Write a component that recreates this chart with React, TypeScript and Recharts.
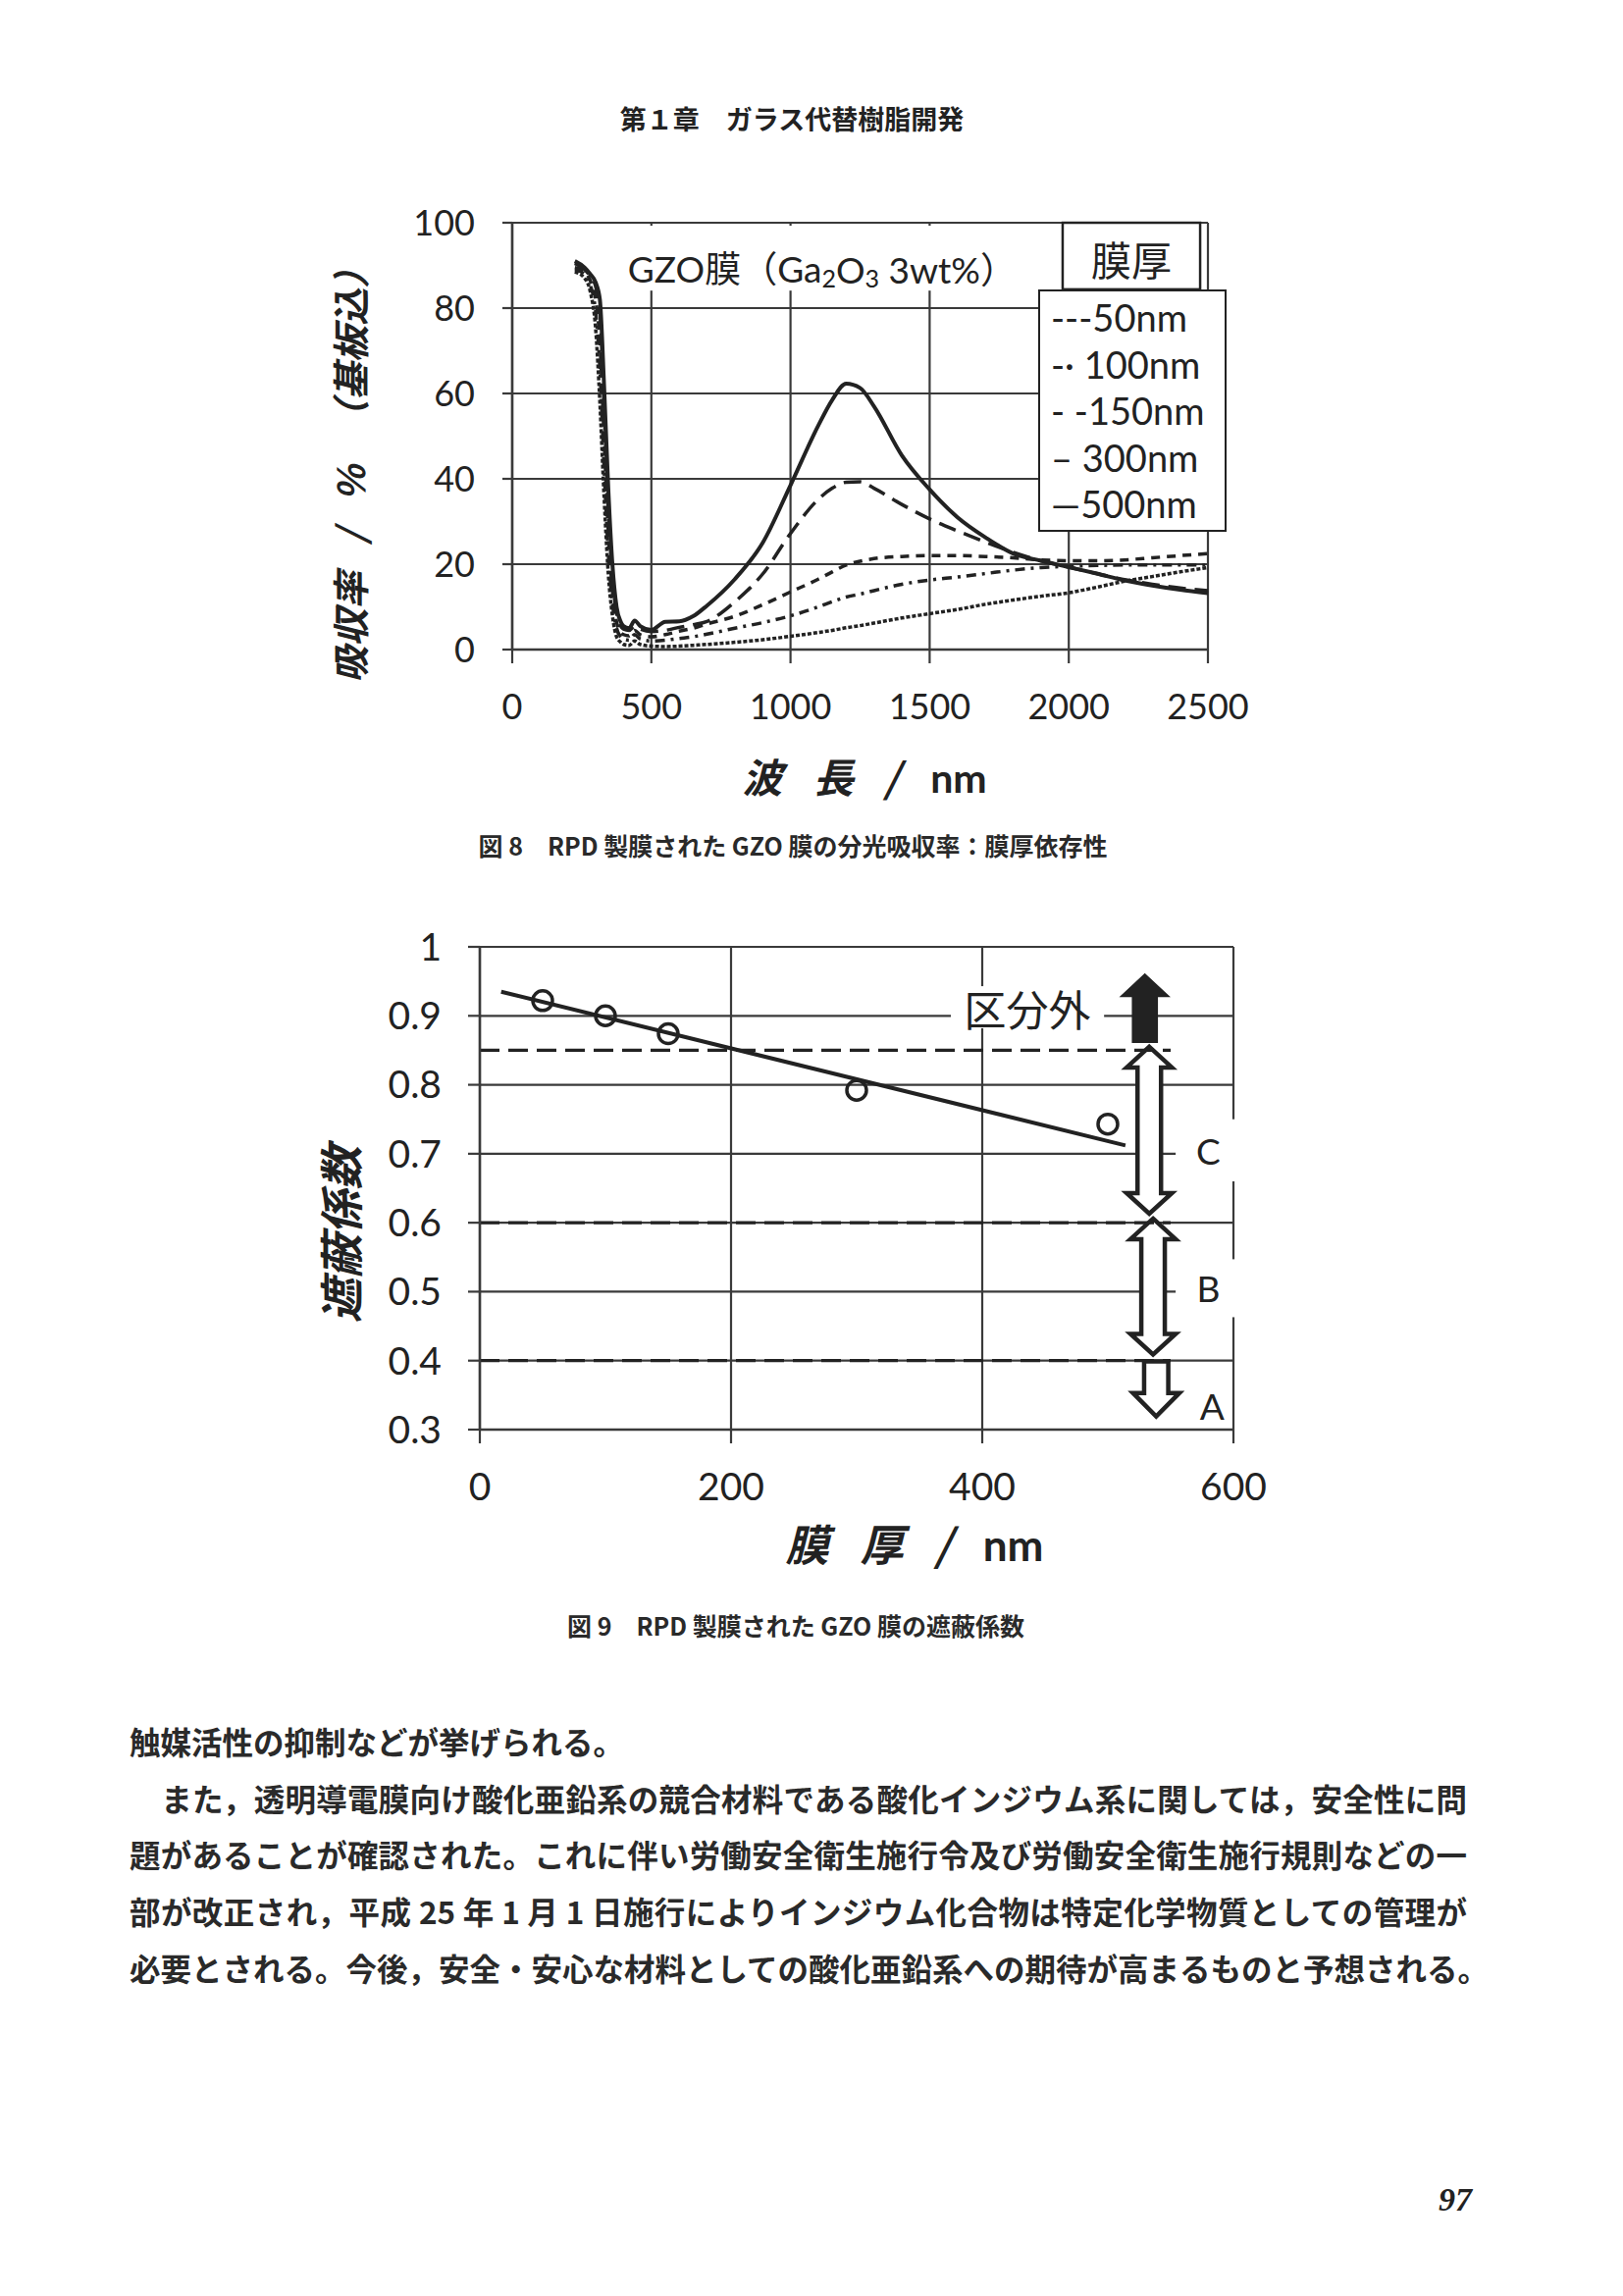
import React from 'react'
import {
  LineChart,
  Line,
  XAxis,
  YAxis,
  CartesianGrid,
  Legend,
  ReferenceArea,
  ReferenceLine,
  ComposedChart,
  Scatter,
} from 'recharts'

const INK = '#222'
const GRID = '#3a3a3a'
const NUM_FONT = 'Lato, "Noto Sans", sans-serif'
const JP_FONT = '"Noto Sans CJK JP", "Noto Sans", sans-serif'

// 図8 分光吸収率（膜厚依存性）
const WL = [225, 260, 280, 300, 315, 330, 345, 360, 375, 390, 400, 420, 440, 460, 500, 550, 600, 650, 700, 800, 900, 1000, 1100, 1150, 1200, 1250, 1300, 1400, 1500, 1600, 1700, 1800, 1900, 2000, 2100, 2200, 2300, 2400, 2500]
const ABS_50 = [88.5, 87, 84, 75, 58, 36, 18, 8, 3, 1.7, 1.2, 1, 2, 1.2, 0.8, 0.7, 0.8, 1, 1.2, 1.7, 2.3, 3.1, 4, 4.5, 5.1, 5.6, 6.2, 7.4, 8.4, 9.4, 10.6, 11.6, 12.5, 13.3, 14.6, 16, 17.1, 18.2, 19.2]
const ABS_100 = [89, 88, 85.5, 79, 66, 43, 23, 11, 5, 3, 2.5, 2.2, 3.5, 2.5, 2, 2.2, 2.6, 3, 3.6, 5, 6.3, 7.9, 10, 11.2, 12.3, 13, 13.8, 15.3, 16.3, 17, 17.8, 18.6, 19.2, 19.5, 19.7, 19.8, 19.8, 19.8, 19.8]
const ABS_150 = [89.5, 88.5, 86.5, 82, 72, 50, 28, 14, 6.5, 4, 3.5, 3.2, 4.5, 3.5, 3, 3.5, 4.3, 5, 6, 7.8, 10.5, 13.5, 16.5, 18.2, 19.8, 20.7, 21.3, 21.8, 22, 22, 21.8, 21.5, 21, 20.8, 20.8, 21, 21.5, 22, 22.5]
const ABS_300 = [90.5, 89, 87.5, 85, 79, 57, 33, 17, 8.5, 5.5, 4.8, 4.5, 5.5, 4.8, 4.2, 4.5, 5.2, 5.8, 6.6, 11.2, 17.7, 27.2, 35.2, 37.8, 39.2, 39.3, 37.8, 34, 30.6, 27.8, 25.2, 22.8, 20.8, 19.3, 17.8, 16.4, 15.3, 14.4, 13.8]
const ABS_500 = [91, 89.5, 88, 86, 82, 62, 38, 20, 10, 6.5, 5.5, 5, 6.8, 5.5, 4.6, 6.5, 6.6, 7.8, 10.3, 16.5, 25, 38.5, 52.5, 58.5, 62.3, 61.3, 57, 45.5, 37.5, 31, 26.3, 22.5, 20.8, 19.3, 17.8, 16.2, 15, 14, 13.2]
const LEGEND_8 = ['---50nm', '-· 100nm', '- -150nm', '– 300nm', '—500nm']
const X8_TICKS = [0, 500, 1000, 1500, 2000, 2500]
const Y8_TICKS = [0, 20, 40, 60, 80, 100]

const ROWS_8 = WL.map((wl, i) => ({
  wl,
  a50: ABS_50[i],
  a100: ABS_100[i],
  a150: ABS_150[i],
  a300: ABS_300[i],
  a500: ABS_500[i],
}))

// 図9 遮蔽係数
const THICKNESS = [50, 100, 150, 300, 500]
const SHIELD = [0.922, 0.9, 0.874, 0.792, 0.743]
const FIT_X = [17, 514]
const FIT_Y = [0.935, 0.712]
const CLASS_LEVELS = [0.85, 0.6, 0.4]
const CLASS_END = 550
const X9_TICKS = [0, 200, 400, 600]
const Y9_TICKS = [0.3, 0.4, 0.5, 0.6, 0.7, 0.8, 0.9, 1]

const POINTS_9 = THICKNESS.map((x, i) => ({ x, y: SHIELD[i] }))
const FIT_9 = FIT_X.map((x, i) => ({ x, y: FIT_Y[i] }))

const BODY = [
  '触媒活性の抑制などが挙げられる。',
  'また，透明導電膜向け酸化亜鉛系の競合材料である酸化インジウム系に関しては，安全性に問',
  '題があることが確認された。これに伴い労働安全衛生施行令及び労働安全衛生施行規則などの一',
  '部が改正され，平成 25 年 1 月 1 日施行によりインジウム化合物は特定化学物質としての管理が',
  '必要とされる。今後，安全・安心な材料としての酸化亜鉛系への期待が高まるものと予想される。',
]

const tick8 = { fill: INK, fontSize: 36, fontFamily: NUM_FONT }
const tick9 = { fill: INK, fontSize: 39, fontFamily: NUM_FONT }

function center(cx: number, cy: number, extra: React.CSSProperties = {}): React.CSSProperties {
  return {
    position: 'absolute',
    left: cx,
    top: cy,
    transform: 'translate(-50%, -50%)',
    whiteSpace: 'nowrap',
    color: INK,
    ...extra,
  }
}

function TitleBox8(p: any) {
  return (
    <g>
      <rect x={p.x} y={p.y} width={p.width} height={p.height} fill="#fff" />
      <text
        x={p.x + p.width / 2}
        y={p.y + p.height * 0.66}
        textAnchor="middle"
        dominantBaseline="central"
        fontSize={37}
        fontFamily={`Lato, ${JP_FONT}`}
        fill={INK}
      >
        GZO膜（Ga
        <tspan fontSize={25} dy={9}>2</tspan>
        <tspan dy={-9}>O</tspan>
        <tspan fontSize={25} dy={9}>3</tspan>
        <tspan dy={-9}> 3wt%）</tspan>
      </text>
    </g>
  )
}

function UnitBox8(p: any) {
  return (
    <g>
      <rect x={p.x} y={p.y} width={p.width} height={p.height} fill="#fff" stroke={INK} strokeWidth={2.5} />
      <text
        x={p.x + p.width / 2}
        y={p.y + p.height / 2 + 2}
        textAnchor="middle"
        dominantBaseline="central"
        fontSize={41}
        fontFamily={JP_FONT}
        fill={INK}
      >
        膜厚
      </text>
    </g>
  )
}

function Legend8(props: any) {
  const items = [...(props.payload ?? [])].sort(
    (a: any, b: any) => LEGEND_8.indexOf(a.value) - LEGEND_8.indexOf(b.value),
  )
  return (
    <div
      style={{
        width: 192,
        height: 247,
        boxSizing: 'border-box',
        border: `2.5px solid ${INK}`,
        background: '#fff',
        padding: '3px 0 0 11px',
        fontFamily: NUM_FONT,
        fontSize: 38,
        lineHeight: '47.5px',
        color: INK,
        whiteSpace: 'nowrap',
      }}
    >
      {items.map((it: any) => (
        <div key={it.value}>{it.value}</div>
      ))}
    </div>
  )
}

function labelShape(text: string, size: number, family: string, weight: number, bg: boolean) {
  return (p: any) => (
    <g>
      {bg && <rect x={p.x} y={p.y} width={p.width} height={p.height} fill="#fff" />}
      <text
        x={p.x + p.width / 2}
        y={p.y + p.height / 2}
        textAnchor="middle"
        dominantBaseline="central"
        fontSize={size}
        fontFamily={family}
        fontWeight={weight}
        fill={INK}
      >
        {text}
      </text>
    </g>
  )
}

function FilledUpArrow(p: any) {
  const { x, y, width: w, height: h } = p
  const cx = x + w / 2
  const hh = h * 0.32
  const sw = w * 0.26
  const pts = [
    [cx, y], [x + w, y + hh], [cx + sw, y + hh], [cx + sw, y + h],
    [cx - sw, y + h], [cx - sw, y + hh], [x, y + hh],
  ]
  return <polygon points={pts.map(q => q.join(',')).join(' ')} fill={INK} stroke={INK} strokeWidth={2} />
}

function DoubleArrow(p: any) {
  const { x, y, width: w, height: h } = p
  const cx = x + w / 2
  const hh = 21
  const sw = w * 0.26
  const pts = [
    [cx, y], [x + w, y + hh], [cx + sw, y + hh], [cx + sw, y + h - hh], [x + w, y + h - hh],
    [cx, y + h], [x, y + h - hh], [cx - sw, y + h - hh], [cx - sw, y + hh], [x, y + hh],
  ]
  return <polygon points={pts.map(q => q.join(',')).join(' ')} fill="#fff" stroke={INK} strokeWidth={4.5} />
}

function DownArrow(p: any) {
  const { x, y, width: w, height: h } = p
  const cx = x + w / 2
  const hh = 24
  const sw = w * 0.26
  const pts = [
    [cx - sw, y], [cx + sw, y], [cx + sw, y + h - hh], [x + w, y + h - hh],
    [cx, y + h], [x, y + h - hh], [cx - sw, y + h - hh],
  ]
  return <polygon points={pts.map(q => q.join(',')).join(' ')} fill="#fff" stroke={INK} strokeWidth={4.5} />
}

function Circle9(p: any) {
  return <circle cx={p.cx} cy={p.cy} r={10} fill="none" stroke={INK} strokeWidth={3.5} />
}

export default function App() {
  const bodyLine = (i: number): React.CSSProperties => ({
    position: 'absolute',
    left: 132,
    top: 1774 + i * 57.7 - 20,
    width: 1363,
    height: 40,
    lineHeight: '40px',
    fontSize: 31.5,
    fontFamily: JP_FONT,
    fontWeight: 700,
    color: '#2a2a2a',
    whiteSpace: 'nowrap',
    textAlign: i === 0 ? 'left' : 'justify',
    textAlignLast: i === 0 ? 'left' : 'justify',
  })

  return (
    <div style={{ position: 'absolute', left: 0, top: 0, width: 1654, height: 2340, background: '#fff', overflow: 'hidden' }}>
      <div style={center(807, 120, { fontFamily: JP_FONT, fontSize: 27, fontWeight: 700 })}>第１章　ガラス代替樹脂開発</div>

      {/* 図8 */}
      <div style={{ position: 'absolute', left: 300, top: 180 }}>
        <LineChart width={1000} height={620} data={ROWS_8} margin={{ top: 47, right: 69, bottom: 58, left: 122 }}>
          <CartesianGrid stroke={GRID} strokeWidth={2.2} />
          <XAxis
            dataKey="wl"
            type="number"
            domain={[0, 2500]}
            ticks={X8_TICKS}
            interval={0}
            height={80}
            tick={tick8}
            tickSize={14}
            tickMargin={31}
            axisLine={{ stroke: GRID, strokeWidth: 2.5 }}
            tickLine={{ stroke: GRID, strokeWidth: 2.2 }}
          />
          <YAxis
            type="number"
            domain={[0, 100]}
            ticks={Y8_TICKS}
            interval={0}
            width={100}
            tick={tick8}
            tickSize={10}
            tickMargin={28}
            axisLine={{ stroke: GRID, strokeWidth: 2.5 }}
            tickLine={{ stroke: GRID, strokeWidth: 2.2 }}
          />
          <ReferenceArea x1={416} x2={1812} y1={84.1} y2={99.3} ifOverflow="visible" shape={TitleBox8} />
          <ReferenceArea x1={1978} x2={2472} y1={84.4} y2={100} ifOverflow="visible" shape={UnitBox8} />
          <Line dataKey="a50" name={LEGEND_8[0]} type="monotone" stroke={INK} strokeWidth={3.5} strokeDasharray="4 2" dot={false} isAnimationActive={false} />
          <Line dataKey="a100" name={LEGEND_8[1]} type="monotone" stroke={INK} strokeWidth={3.5} strokeDasharray="10 6 3 6" dot={false} isAnimationActive={false} />
          <Line dataKey="a150" name={LEGEND_8[2]} type="monotone" stroke={INK} strokeWidth={3.5} strokeDasharray="9 7" dot={false} isAnimationActive={false} />
          <Line dataKey="a300" name={LEGEND_8[3]} type="monotone" stroke={INK} strokeWidth={3.5} strokeDasharray="18 9" dot={false} isAnimationActive={false} />
          <Line dataKey="a500" name={LEGEND_8[4]} type="monotone" stroke={INK} strokeWidth={4} dot={false} isAnimationActive={false} />
          <Legend
            layout="vertical"
            align="center"
            verticalAlign="middle"
            wrapperStyle={{ left: 758, top: 115, width: 192, height: 247 }}
            content={Legend8}
          />
        </LineChart>
      </div>
      <div style={center(355, 476, { transform: 'translate(-50%, -50%) rotate(-90deg)', fontFamily: JP_FONT, fontSize: 38, fontWeight: 700, fontStyle: 'italic', wordSpacing: 20 })}>
        吸収率 / % （基板込）
      </div>
      <div style={center(881, 790, { fontFamily: JP_FONT, fontSize: 41, fontWeight: 700, fontStyle: 'italic', wordSpacing: 22 })}>
        波 長 / <span style={{ fontStyle: 'normal', fontFamily: NUM_FONT }}>nm</span>
      </div>
      <div style={center(808, 861, { fontFamily: JP_FONT, fontSize: 25, fontWeight: 700, color: '#2a2a2a' })}>
        図 8　RPD 製膜された GZO 膜の分光吸収率：膜厚依存性
      </div>

      {/* 図9 */}
      <div style={{ position: 'absolute', left: 300, top: 900 }}>
        <ComposedChart width={1000} height={640} margin={{ top: 65, right: 43, bottom: 3, left: 89 }}>
          <CartesianGrid stroke={GRID} strokeWidth={2.2} />
          <XAxis
            dataKey="x"
            type="number"
            domain={[0, 600]}
            ticks={X9_TICKS}
            interval={0}
            height={80}
            tick={tick9}
            tickSize={14}
            tickMargin={30}
            axisLine={{ stroke: GRID, strokeWidth: 2.5 }}
            tickLine={{ stroke: GRID, strokeWidth: 2.2 }}
          />
          <YAxis
            dataKey="y"
            type="number"
            domain={[0.3, 1]}
            ticks={Y9_TICKS}
            interval={0}
            width={100}
            tick={tick9}
            tickSize={12}
            tickMargin={27}
            axisLine={{ stroke: GRID, strokeWidth: 2.5 }}
            tickLine={{ stroke: GRID, strokeWidth: 2.2 }}
          />
          {CLASS_LEVELS.map(v => (
            <ReferenceLine
              key={v}
              segment={[{ x: 0, y: v }, { x: CLASS_END, y: v }]}
              stroke={INK}
              strokeWidth={3.2}
              strokeDasharray="20 9"
            />
          ))}
          <ReferenceArea x1={375} x2={497} y1={0.882} y2={0.943} ifOverflow="visible" shape={labelShape('区分外', 43, JP_FONT, 400, true)} />
          <ReferenceArea x1={554} x2={606} y1={0.66} y2={0.75} ifOverflow="visible" shape={labelShape('C', 37, NUM_FONT, 400, true)} />
          <ReferenceArea x1={554} x2={606} y1={0.463} y2={0.547} ifOverflow="visible" shape={labelShape('B', 37, NUM_FONT, 400, true)} />
          <ReferenceArea x1={566} x2={600} y1={0.3} y2={0.37} ifOverflow="visible" shape={labelShape('A', 37, NUM_FONT, 400, false)} />
          <ReferenceArea x1={511} x2={548} y1={0.862} y2={0.96} ifOverflow="visible" shape={FilledUpArrow} />
          <ReferenceArea x1={515} x2={551} y1={0.613} y2={0.855} ifOverflow="visible" shape={DoubleArrow} />
          <ReferenceArea x1={518} x2={554} y1={0.409} y2={0.606} ifOverflow="visible" shape={DoubleArrow} />
          <ReferenceArea x1={520} x2={557} y1={0.319} y2={0.399} ifOverflow="visible" shape={DownArrow} />
          <Line data={FIT_9} dataKey="y" type="linear" stroke={INK} strokeWidth={4} dot={false} isAnimationActive={false} />
          <Scatter data={POINTS_9} dataKey="y" shape={Circle9} isAnimationActive={false} />
        </ComposedChart>
      </div>
      <div style={center(345, 1258, { transform: 'translate(-50%, -50%) rotate(-90deg)', fontFamily: JP_FONT, fontSize: 45, fontWeight: 700, fontStyle: 'italic' })}>
        遮蔽係数
      </div>
      <div style={center(932, 1572, { fontFamily: JP_FONT, fontSize: 44, fontWeight: 700, fontStyle: 'italic', wordSpacing: 22 })}>
        膜 厚 / <span style={{ fontStyle: 'normal', fontFamily: NUM_FONT }}>nm</span>
      </div>
      <div style={center(811, 1656, { fontFamily: JP_FONT, fontSize: 25, fontWeight: 700, color: '#2a2a2a' })}>
        図 9　RPD 製膜された GZO 膜の遮蔽係数
      </div>

      {BODY.map((t, i) => (
        <div key={i} style={bodyLine(i)}>
          {i === 1 ? <span style={{ display: 'inline-block', width: 32 }} /> : null}
          {t}
        </div>
      ))}

      <div style={center(1483, 2242, { fontFamily: '"Liberation Serif", serif', fontSize: 34, fontWeight: 700, fontStyle: 'italic' })}>97</div>
    </div>
  )
}
